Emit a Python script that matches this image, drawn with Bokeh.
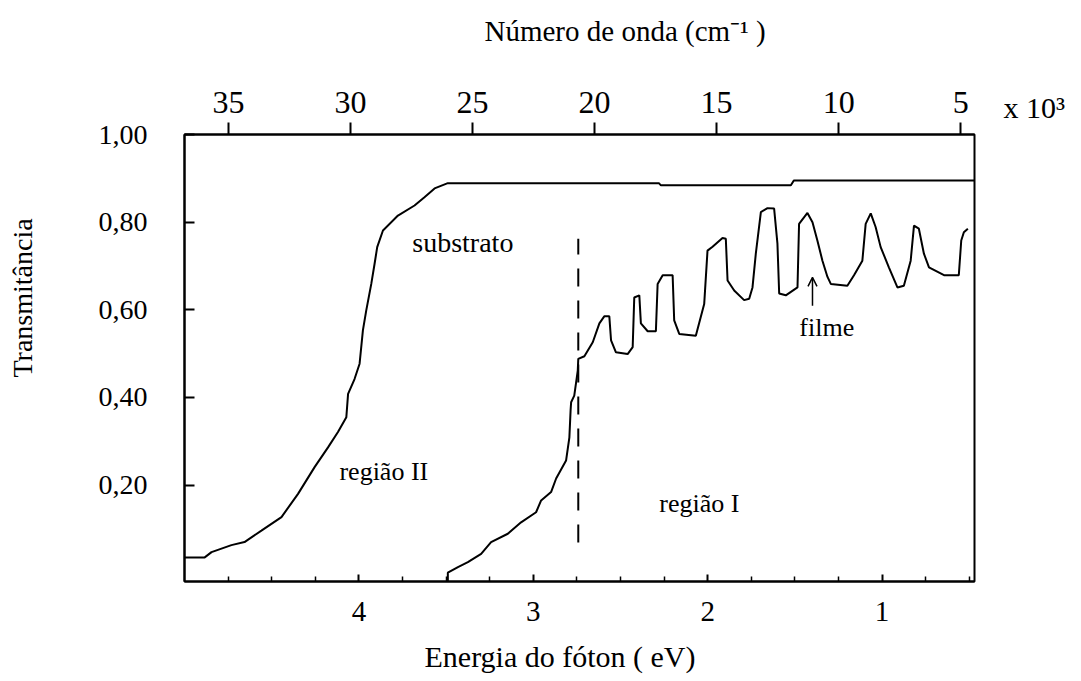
from bokeh.plotting import figure
from bokeh.models import (Range1d, LinearAxis, FixedTicker, Arrow, OpenHead, Title, Label)
from bokeh.core.properties import value
from bokeh.embed import file_html
from bokeh.resources import INLINE

# ---- data ----
energy_substrate = [5.000, 4.884, 4.845, 4.731, 4.656, 4.559, 4.444, 4.349, 4.254, 4.177,
                    4.120, 4.072, 4.062, 4.025, 3.996, 3.977, 3.958, 3.929, 3.910, 3.895,
                    3.862, 3.776, 3.681, 3.624, 3.566, 3.490, 2.280, 2.268, 1.523, 1.506, 0.470]
T_substrate = [0.035, 0.035, 0.047, 0.063, 0.070, 0.096, 0.127, 0.180, 0.241, 0.286,
               0.321, 0.355, 0.408, 0.442, 0.477, 0.553, 0.598, 0.659, 0.705, 0.743,
               0.781, 0.815, 0.838, 0.857, 0.877, 0.889, 0.889, 0.884, 0.884, 0.895, 0.895]

energy_film = [3.490, 3.490, 3.432, 3.375, 3.299, 3.242, 3.146, 3.070, 2.984, 2.955,
               2.898, 2.869, 2.812, 2.793, 2.786, 2.783, 2.765, 2.745, 2.742, 2.707,
               2.659, 2.621, 2.593, 2.564, 2.554, 2.526, 2.459, 2.430, 2.421, 2.392,
               2.383, 2.344, 2.297, 2.287, 2.258, 2.201, 2.192, 2.163, 2.068, 2.020,
               2.001, 1.972, 1.915, 1.896, 1.886, 1.848, 1.791, 1.762, 1.743, 1.724,
               1.695, 1.657, 1.619, 1.600, 1.590, 1.552, 1.485, 1.476, 1.428, 1.399,
               1.371, 1.342, 1.313, 1.294, 1.199, 1.161, 1.113, 1.094, 1.065, 1.037,
               1.008, 0.961, 0.912, 0.875, 0.836, 0.817, 0.789, 0.760, 0.731, 0.645,
               0.560, 0.546, 0.531, 0.508]
T_film = [-0.020, 0.000, 0.013, 0.024, 0.043, 0.070, 0.089, 0.115, 0.138, 0.165,
          0.184, 0.215, 0.256, 0.309, 0.371, 0.389, 0.404, 0.461, 0.488, 0.494,
          0.526, 0.569, 0.585, 0.585, 0.530, 0.503, 0.499, 0.515, 0.628, 0.633,
          0.569, 0.551, 0.551, 0.659, 0.679, 0.679, 0.576, 0.545, 0.541, 0.613,
          0.735, 0.744, 0.764, 0.762, 0.667, 0.644, 0.622, 0.625, 0.651, 0.728,
          0.823, 0.832, 0.831, 0.751, 0.637, 0.633, 0.651, 0.796, 0.821, 0.800,
          0.758, 0.712, 0.675, 0.659, 0.655, 0.679, 0.712, 0.796, 0.820, 0.789,
          0.743, 0.697, 0.651, 0.655, 0.712, 0.792, 0.785, 0.728, 0.697, 0.679,
          0.679, 0.758, 0.777, 0.785]

gap_energy = 2.742
gap_T = [0.069, 0.762]

energy_ticks = [1, 2, 3, 4]
energy_minor = [0.5, 0.75, 1.25, 1.5, 1.75, 2.25, 2.5, 2.75, 3.25, 3.5, 3.75, 4.25, 4.5, 4.75]
wavenumber_ticks = [35, 30, 25, 20, 15, 10, 5]
T_ticks = [0.2, 0.4, 0.6, 0.8, 1.0]
T_tick_labels = ["0,20", "0,40", "0,60", "0,80", "1,00"]

annot_text = ["substrato", "região II", "região I", "filme"]
annot_x = [3.404, 3.857, 2.048, 1.317]
annot_y = [0.754, 0.230, 0.159, 0.560]
annot_size = ["28px", "26px", "26px", "26px"]
arrow_x = 1.399
arrow_T = [0.609, 0.674]

FONT = "Liberation Serif"

p = figure(width=1081, height=681, output_backend="svg", toolbar_location=None,
           x_range=Range1d(5.0, 0.47), y_range=Range1d(-0.02, 1.0),
           min_border_left=183, min_border_right=107, min_border_top=134,
           min_border_bottom=100)
p.extra_x_ranges = {"wn": Range1d(36.8, 4.435)}
p.grid.visible = False
p.outline_line_color = "black"
p.outline_line_width = 2
p.background_fill_color = "white"
p.border_fill_color = "white"

# bottom axis (energy)
xa = p.xaxis[0]
xa.ticker = FixedTicker(ticks=energy_ticks, minor_ticks=energy_minor)
xa.axis_line_width = 2
xa.major_tick_in = 7
xa.major_tick_out = 0
xa.minor_tick_in = 5
xa.minor_tick_out = 0
xa.major_tick_line_width = 2
xa.minor_tick_line_width = 1.5
xa.major_label_standoff = 20
xa.major_label_text_font = FONT
xa.major_label_text_font_size = "29px"
xa.major_label_text_color = "black"

# left axis (transmittance)
ya = p.yaxis[0]
ya.ticker = FixedTicker(ticks=T_ticks)
ya.major_label_overrides = {t: s for t, s in zip(T_ticks, T_tick_labels)}
ya.axis_line_width = 2
ya.major_tick_in = 10
ya.major_tick_out = 0
ya.minor_tick_in = 0
ya.minor_tick_out = 0
ya.major_tick_line_width = 2
ya.major_label_standoff = 37
ya.major_label_text_font = FONT
ya.major_label_text_font_size = "28px"
ya.major_label_text_color = "black"

# top axis (wavenumber x 10^3)
ta = LinearAxis(x_range_name="wn", ticker=FixedTicker(ticks=wavenumber_ticks))
ta.axis_line_width = 2
ta.major_tick_in = 0
ta.major_tick_out = 12
ta.minor_tick_in = 0
ta.minor_tick_out = 0
ta.major_tick_line_width = 2
ta.major_label_standoff = 10
ta.major_label_text_font = FONT
ta.major_label_text_font_size = "32px"
ta.major_label_text_color = "black"
p.add_layout(ta, "above")


def spacer(size, at, range_name=None):
    kw = {}
    if range_name:
        kw["x_range_name"] = range_name
    return LinearAxis(ticker=FixedTicker(ticks=[at]), major_label_overrides={at: ""},
                      axis_line_alpha=0, major_tick_in=0, major_tick_out=size,
                      minor_tick_in=0, minor_tick_out=0, major_tick_line_color="white",
                      major_tick_line_width=1, major_label_standoff=0, **kw)


def title(text, size, offset, standoff, valign):
    return Title(text=text, align="left", offset=offset, standoff=standoff,
                 vertical_align=valign, text_font=FONT, text_font_size=size,
                 text_font_style="normal", text_color="black")


p.add_layout(spacer(41, 36.5, "wn"), "above")
p.add_layout(title("Número de onda (cm⁻¹ )", "29px", 300, 2, "bottom"), "above")
p.add_layout(spacer(15, 4.9), "below")
p.add_layout(title("Energia do fóton  ( eV)", "30px", 240, 2, "top"), "below")
p.add_layout(spacer(50, 0.0), "left")
p.add_layout(title("Transmitância", "28px", 204, 12, "top"), "left")

# curves
p.line(energy_substrate, T_substrate, line_color="black", line_width=2)
p.line(energy_film, T_film, line_color="black", line_width=2)
p.line([gap_energy, gap_energy], gap_T, line_color="black", line_width=2, line_dash="18 14")

for t, x, y, s in zip(annot_text, annot_x, annot_y, annot_size):
    p.text(x=[x], y=[y], text=[t], text_font=value(FONT), text_font_size=s,
           text_align="center", text_baseline="middle", text_color="black")

p.add_layout(Arrow(end=OpenHead(size=9, line_width=1.5), x_start=arrow_x, y_start=arrow_T[0],
                   x_end=arrow_x, y_end=arrow_T[1], line_width=1.5, line_color="black"))

# multiplier of the top scale, beside it (in the right border panel)
p.add_layout(Label(x=0.304, y=1.062, text="x 10³", text_font=FONT, text_font_size="30px",
                   text_align="left", text_baseline="alphabetic", text_color="black"), "right")

open("out.html", "w").write(file_html(p, INLINE))
